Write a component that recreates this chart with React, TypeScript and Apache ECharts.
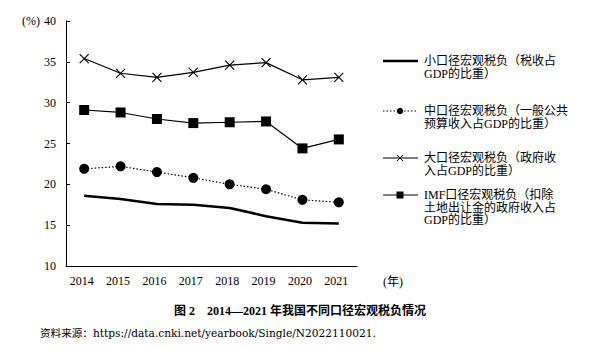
import React, { useEffect, useRef } from "react";
import * as echarts from "echarts";

const years = ["2014", "2015", "2016", "2017", "2018", "2019", "2020", "2021"];
const smallCaliber = [18.6, 18.2, 17.6, 17.5, 17.1, 16.1, 15.3, 15.2];
const midCaliber = [21.9, 22.2, 21.5, 20.8, 20.0, 19.4, 18.1, 17.8];
const bigCaliber = [35.4, 33.6, 33.1, 33.7, 34.6, 34.9, 32.8, 33.1];
const imfCaliber = [29.1, 28.8, 28.0, 27.5, 27.6, 27.7, 24.4, 25.5];

const seriesNames = [
  "小口径宏观税负",
  "中口径宏观税负",
  "大口径宏观税负",
  "IMF口径宏观税负",
];
const legendLines = [
  ["小口径宏观税负（税收占", "GDP的比重）"],
  ["中口径宏观税负（一般公共", "预算收入占GDP的比重）"],
  ["大口径宏观税负（政府收", "入占GDP的比重）"],
  ["IMF口径宏观税负（扣除", "土地出让金的政府收入占", "GDP的比重）"],
];
const yTicks = { min: 10, max: 40, interval: 5 };
const titleText = "图 2　2014—2021 年我国不同口径宏观税负情况";
const sourceText = "资料来源：https://data.cnki.net/yearbook/Single/N2022110021.";

const FONT = "'Liberation Serif', 'Noto Sans CJK SC', serif";
const WIDE = "'DejaVu Serif', 'Noto Sans CJK SC', serif";
const CROSS = "path://M0,0L10,10M10,0L0,10";

export default function App() {
  const ref = useRef<HTMLDivElement>(null);
  useEffect(() => {
    if (!ref.current) return;
    const chart = echarts.init(ref.current, undefined, { renderer: "svg" });

    const legendY = [61, 111, 158, 195];
    const legendGraphics: any[] = [];
    const lx1 = 383, lx2 = 418, lmid = 400, tx = 424;
    legendLines.forEach((lines, i) => {
      const y = legendY[i];
      const lineStyle: any = { stroke: "#000", lineWidth: i === 0 ? 2.6 : 1.2 };
      if (i === 1) lineStyle.lineDash = [1.5, 2];
      legendGraphics.push({ type: "line", shape: { x1: lx1, y1: y, x2: lx2, y2: y }, style: lineStyle });
      if (i === 1) legendGraphics.push({ type: "circle", shape: { cx: lmid, cy: y, r: 3.2 }, style: { fill: "#000" } });
      if (i === 2) {
        legendGraphics.push({ type: "line", shape: { x1: lmid - 3, y1: y - 3, x2: lmid + 3, y2: y + 3 }, style: { stroke: "#000", lineWidth: 1 } });
        legendGraphics.push({ type: "line", shape: { x1: lmid + 3, y1: y - 3, x2: lmid - 3, y2: y + 3 }, style: { stroke: "#000", lineWidth: 1 } });
      }
      if (i === 3) legendGraphics.push({ type: "rect", shape: { x: lmid - 3.5, y: y - 3.5, width: 7, height: 7 }, style: { fill: "#000" } });
      lines.forEach((t, j) => {
        legendGraphics.push({
          type: "text",
          x: tx,
          y: y + j * 12.5,
          style: { text: t, fill: "#000", font: `12px ${FONT}`, textVerticalAlign: "middle", textAlign: "left" },
        });
      });
    });

    chart.setOption({
      animation: false,
      backgroundColor: "#fff",
      grid: { left: 66, top: 21, right: 232, bottom: 83, containLabel: false },
      xAxis: {
        type: "category",
        data: years,
        boundaryGap: true,
        axisLine: { lineStyle: { color: "#000", width: 1 } },
        axisTick: { inside: true, length: 5, lineStyle: { color: "#000" } },
        axisLabel: { color: "#000", fontSize: 12, fontFamily: FONT, margin: 9, padding: [0, 5, 0, 0] },
        splitLine: { show: false },
      },
      yAxis: {
        type: "value",
        min: yTicks.min,
        max: yTicks.max,
        interval: yTicks.interval,
        axisLine: { show: true, lineStyle: { color: "#000", width: 1 } },
        axisTick: { show: true, inside: true, length: 4, lineStyle: { color: "#000" } },
        axisLabel: { color: "#000", fontSize: 12, fontFamily: FONT, margin: 10 },
        splitLine: { show: false },
      },
      series: [
        {
          name: seriesNames[0],
          type: "line",
          data: smallCaliber,
          symbol: "none",
          lineStyle: { color: "#000", width: 2.6 },
        },
        {
          name: seriesNames[1],
          type: "line",
          data: midCaliber,
          symbol: "circle",
          symbolSize: 10,
          itemStyle: { color: "#000" },
          lineStyle: { color: "#000", width: 1.2, type: [1.5, 2] },
        },
        {
          name: seriesNames[2],
          type: "line",
          data: bigCaliber,
          symbol: CROSS,
          symbolSize: 9,
          itemStyle: { color: "#000", borderColor: "#000", borderWidth: 1.1 },
          lineStyle: { color: "#000", width: 1.2 },
        },
        {
          name: seriesNames[3],
          type: "line",
          data: imfCaliber,
          symbol: "rect",
          symbolSize: 10,
          itemStyle: { color: "#000" },
          lineStyle: { color: "#000", width: 1.2 },
        },
      ],
      graphic: [
        { type: "text", x: 40, y: 21, style: { text: "(%)", fill: "#000", font: `12px ${FONT}`, textAlign: "right", textVerticalAlign: "middle" } },
        { type: "text", x: 383, y: 282, style: { text: "(年)", fill: "#000", font: `12px ${FONT}`, textAlign: "left", textVerticalAlign: "middle" } },
        { type: "text", x: 300, y: 311, style: { text: titleText, fill: "#000", font: `bold 12px ${FONT}`, textAlign: "center", textVerticalAlign: "middle" } },
        { type: "text", x: 40, y: 333, style: { text: sourceText, fill: "#000", font: `10.6px ${WIDE}`, textAlign: "left", textVerticalAlign: "middle" } },
        ...legendGraphics,
      ],
    });
    return () => chart.dispose();
  }, []);
  return (
    <div
      ref={ref}
      style={{ position: "fixed", left: 0, top: 0, width: 589, height: 349, background: "#fff" }}
    />
  );
}
